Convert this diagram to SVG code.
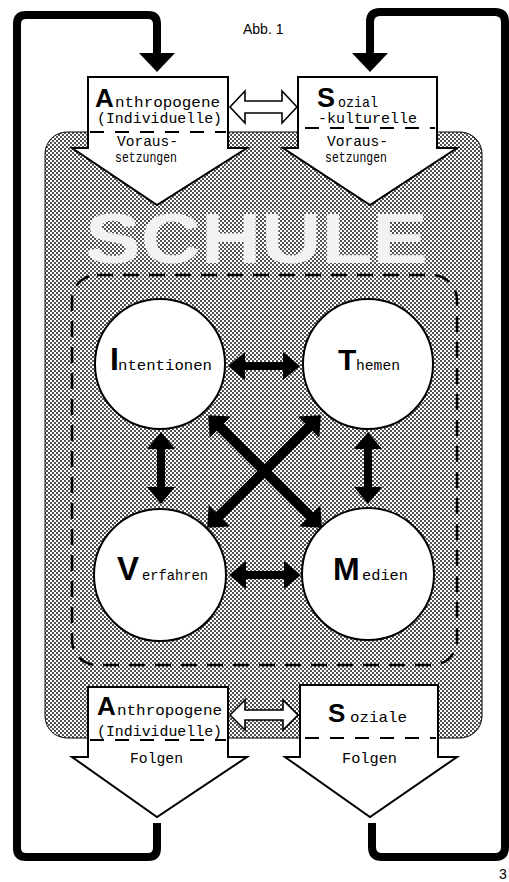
<svg xmlns="http://www.w3.org/2000/svg" width="509" height="882" viewBox="0 0 509 882">
  <defs>
    <pattern id="dots" x="0" y="0" width="4" height="4" patternUnits="userSpaceOnUse">
      <rect width="4" height="4" fill="#ffffff"/>
      <circle cx="1" cy="1" r="0.9" fill="#000"/>
      <circle cx="3" cy="3" r="0.9" fill="#000"/>
    </pattern>
    <path id="dblShort" d="M-36,0 L-19,-14 L-19,-4 L19,-4 L19,-14 L36,0 L19,14 L19,4 L-19,4 L-19,14 Z"/>
    <path id="dblLong" d="M-80,0 L-63,-15 L-63,-5 L63,-5 L63,-15 L80,0 L63,15 L63,5 L-63,5 L-63,15 Z"/>
  </defs>
  <style>
    .loop { fill: none; stroke: #000; stroke-width: 8; stroke-linejoin: round; }
    .head { fill: #000; }
    .box { fill: #fff; stroke: #000; stroke-width: 2; stroke-linejoin: miter; }
    .sep { stroke: #000; stroke-width: 1.8; stroke-dasharray: 14 11; fill: none; }
    .hollow { fill: #fff; stroke: #000; stroke-width: 1.6; stroke-linejoin: miter; }
    .solid { fill: #000; }
    .big { font-family: "Liberation Sans", Arial, sans-serif; font-weight: bold; fill: #000; }
    .tw { font-family: "Liberation Mono", "Courier New", monospace; fill: #000; font-size: 15px; }
    .node { fill: #fff; stroke: #000; stroke-width: 2; }
  </style>
  <rect width="509" height="882" fill="#fff"/>

  <g id="title">
    <text x="243" y="34" font-family="Liberation Sans, Arial, sans-serif" font-size="14" fill="#000">Abb. 1</text>
  </g>

  <g id="schule">
    <rect x="45" y="132" width="437" height="606" rx="22" ry="22" fill="url(#dots)" stroke="#000" stroke-width="1"/>
    <text x="85" y="263" class="big" font-size="70" style="fill:#f2f2f2" textLength="343" lengthAdjust="spacingAndGlyphs">SCHULE</text>
    <rect x="72" y="275" width="385" height="390" rx="25" ry="25" fill="none" stroke="#000" stroke-width="2.5" stroke-dasharray="16 10"/>
  </g>

  <g id="connectors">
    <path class="loop" d="M157,823 V848 Q157,857 148,857 H26 Q17,857 17,848 V24 Q17,15 26,15 H148 Q157,15 157,24 V55"/>
    <polygon class="head" points="139,53 175,53 157,72"/>
    <path class="loop" d="M370,55 V22 Q370,12 380,12 H495 Q505,12 505,22 V847 Q505,857 495,857 H382 Q372,857 372,847 V823"/>
    <polygon class="head" points="352,53 388,53 370,72"/>
    <polygon class="hollow" points="230,107 245,91 245,101 282,101 282,91 297,107 282,123 282,113 245,113 245,123"/>
    <polygon class="hollow" points="230,715 245,700 245,710 283,710 283,700 298,715 283,730 283,720 245,720 245,730"/>
    <use href="#dblShort" class="solid" transform="translate(264,366)"/>
    <use href="#dblShort" class="solid" transform="translate(265,575)"/>
    <use href="#dblShort" class="solid" transform="translate(161,468) rotate(90)"/>
    <use href="#dblShort" class="solid" transform="translate(368,468) rotate(90)"/>
    <use href="#dblLong" class="solid" transform="translate(265,471.5) rotate(44.7)"/>
    <use href="#dblLong" class="solid" transform="translate(264,471.5) rotate(-44.7)"/>
  </g>

  <g id="anthropogene-voraussetzungen">
    <path class="box" d="M88,77 H228 V148 H247 L157,205 L72,148 H88 Z"/>
    <line class="sep" x1="90" y1="132" x2="226" y2="132"/>
    <text x="95" y="107" class="big" font-size="26">A</text>
    <text x="115" y="107" class="tw" textLength="105" lengthAdjust="spacingAndGlyphs">nthropogene</text>
    <text x="97" y="123" class="tw" textLength="125" lengthAdjust="spacingAndGlyphs">(Individuelle)</text>
    <text x="117" y="146" class="tw" font-size="13" textLength="61" lengthAdjust="spacingAndGlyphs">Voraus-</text>
    <text x="115" y="162" class="tw" font-size="13" textLength="62" lengthAdjust="spacingAndGlyphs">setzungen</text>
  </g>

  <g id="sozialkulturelle-voraussetzungen">
    <path class="box" d="M298,77 H437 V148 H457 L370,205 L283,148 H298 Z"/>
    <line class="sep" x1="305" y1="128" x2="435" y2="128"/>
    <text x="317" y="107" class="big" font-size="27">S</text>
    <text x="338" y="107" class="tw" textLength="40" lengthAdjust="spacingAndGlyphs">ozial</text>
    <text x="318" y="123" class="tw" textLength="99" lengthAdjust="spacingAndGlyphs">-kulturelle</text>
    <text x="327" y="146" class="tw" font-size="13" textLength="61" lengthAdjust="spacingAndGlyphs">Voraus-</text>
    <text x="325" y="162" class="tw" font-size="13" textLength="62" lengthAdjust="spacingAndGlyphs">setzungen</text>
  </g>

  <g id="intentionen">
    <circle class="node" cx="160" cy="364" r="65"/>
    <text x="110" y="370" class="big" font-size="32">I</text>
    <text x="118" y="370" class="tw" font-size="16" textLength="94" lengthAdjust="spacingAndGlyphs">ntentionen</text>
  </g>

  <g id="themen">
    <circle class="node" cx="368" cy="364" r="65"/>
    <text x="338" y="370" class="big" font-size="30">T</text>
    <text x="356" y="370" class="tw" font-size="16" textLength="44" lengthAdjust="spacingAndGlyphs">hemen</text>
  </g>

  <g id="verfahren">
    <circle class="node" cx="160" cy="575" r="66"/>
    <text x="117" y="580" class="big" font-size="33">V</text>
    <text x="142" y="580" class="tw" font-size="15" textLength="66" lengthAdjust="spacingAndGlyphs">erfahren</text>
  </g>

  <g id="medien">
    <circle class="node" cx="368" cy="574" r="66"/>
    <text x="333" y="580" class="big" font-size="32">M</text>
    <text x="362" y="580" class="tw" font-size="16" textLength="46" lengthAdjust="spacingAndGlyphs">edien</text>
  </g>

  <g id="anthropogene-folgen">
    <path class="box" d="M88,687 H228 V757 H247 L157,817 L72,757 H88 Z"/>
    <line class="sep" x1="90" y1="740" x2="226" y2="740"/>
    <text x="97" y="715" class="big" font-size="26">A</text>
    <text x="117" y="715" class="tw" textLength="105" lengthAdjust="spacingAndGlyphs">nthropogene</text>
    <text x="97" y="736" class="tw" textLength="125" lengthAdjust="spacingAndGlyphs">(Individuelle)</text>
    <text x="130" y="763" class="tw" textLength="53" lengthAdjust="spacingAndGlyphs">Folgen</text>
  </g>

  <g id="soziale-folgen">
    <path class="box" d="M300,685 H438 V757 H457 L370,817 L285,757 H300 Z"/>
    <line class="sep" x1="305" y1="738" x2="436" y2="738"/>
    <text x="328" y="722" class="big" font-size="26">S</text>
    <text x="350" y="722" class="tw" textLength="57" lengthAdjust="spacingAndGlyphs">oziale</text>
    <text x="342" y="763" class="tw" textLength="55" lengthAdjust="spacingAndGlyphs">Folgen</text>
  </g>

  <g id="page-number">
    <text x="499" y="879" font-family="Liberation Sans, Arial, sans-serif" font-size="14" fill="#000">3</text>
  </g>
</svg>
